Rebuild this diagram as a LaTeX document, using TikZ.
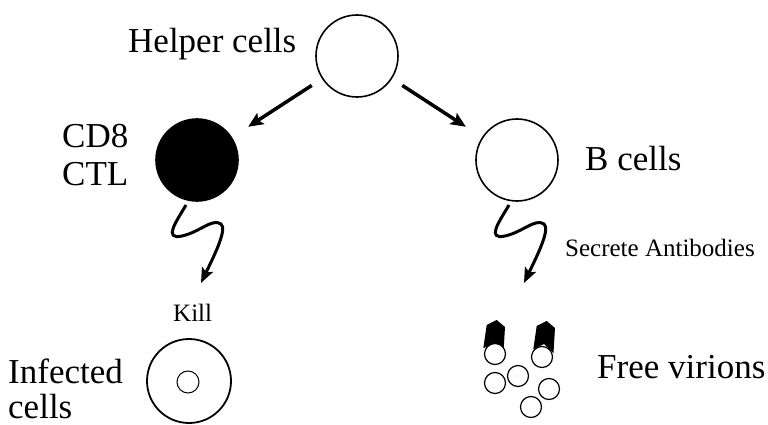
\documentclass[tikz,border=0pt]{standalone}
\usepackage{fontspec}
\setmainfont{Liberation Serif}
\usetikzlibrary{arrows.meta}
\tikzstyle{cell}=[circle, draw, line width=1.6pt, minimum size=82pt, inner sep=0pt, outer sep=0pt]
\tikzstyle{virion}=[circle, draw, fill=white, line width=1.2pt, minimum size=21pt, inner sep=0pt]
\tikzstyle{big}=[font=\fontsize{35}{40}\selectfont, anchor=base west, inner sep=0pt]
\tikzstyle{small}=[font=\fontsize{25}{30}\selectfont, anchor=base west, inner sep=0pt]
\tikzstyle{push}=[line width=3.5pt, -{Stealth[length=15pt,width=13pt,inset=3pt]}]
\tikzstyle{signal}=[line width=3pt, -{Stealth[length=15pt,width=12pt,inset=3pt]}]
\newcommand{\antibody}[1]{\fill[shift={(#1)}] (3.7,5) -- (13.7,0) -- (22,7) -- (20.5,32) -- (11,23) -- (0.3,28.3) -- cycle;}

\begin{document}
\begin{tikzpicture}[x=1pt, y=-1pt]
\useasboundingbox (0,0) rectangle (768,425);
% Cells
    \node[cell] (helper) at (357,56) {};
    \node[cell, fill=black] (cd8) at (197,160) {};
    \node[cell] (bcell) at (517,160) {};
    \node[cell, minimum size=84pt, line width=1.8pt] (infected) at (189,381) {};
    \node[circle, draw, line width=1pt, minimum size=22pt, inner sep=0pt] (core) at (188,382) {};
% Labels
    \node[big] (helper label) at (128,53) {Helper cells};
    \node[big] (cd8 label) at (62,147) {CD8};
    \node[big] (ctl label) at (62,185) {CTL};
    \node[big] (bcell label) at (585,170) {B cells};
    \node[big] (infected label) at (8,383) {Infected};
    \node[big] (cells label) at (8,418) {cells};
    \node[big] (virion label) at (597,378) {Free virions};
    \node[small] (kill label) at (173,321) {Kill};
    \node[small] (secrete label) at (565,256) {Secrete Antibodies};
% Help
    \draw[push, shorten <=13pt, shorten >=20pt] (helper) -- (cd8);
    \draw[push, shorten <=13pt, shorten >=20pt] (helper) -- (bcell);
% Effector signals
    \coordinate (kill top) at (186,205);
    \coordinate (kill tip) at (201,283);
    \coordinate (secrete top) at (509,205);
    \coordinate (secrete tip) at (524,283);
    \draw[signal] (kill top) .. controls (176,222) and (163,240) .. (182,236)
        .. controls (200,232) and (212,218) .. (221,224)
        .. controls (228,229) and (212,260) .. (kill tip);
    \draw[signal] (secrete top) .. controls (499,222) and (486,240) .. (505,236)
        .. controls (523,232) and (535,218) .. (544,224)
        .. controls (551,229) and (535,260) .. (secrete tip);
% Antibodies and virions
    \antibody{483,320}
    \antibody{533,321}
    \node[virion] (v1) at (495,354) {};
    \node[virion] (v2) at (542,357) {};
    \node[virion] (v3) at (495,383) {};
    \node[virion] (v4) at (518,376) {};
    \node[virion] (v5) at (549,389) {};
    \node[virion] (v6) at (531,407) {};
\end{tikzpicture}
\end{document}
